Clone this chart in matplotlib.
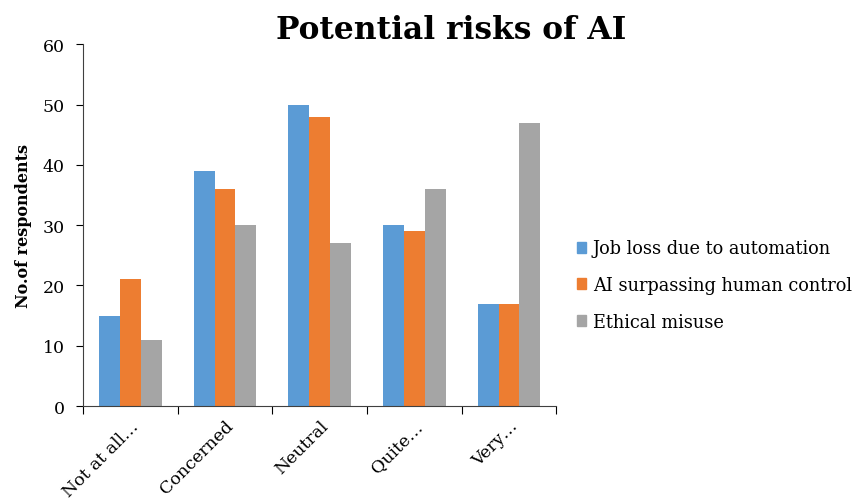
import numpy as np
import matplotlib
matplotlib.use("Agg")
import matplotlib.pyplot as plt
from matplotlib.patches import Patch

categories = ["Not at all…", "Concerned", "Neutral", "Quite…", "Very…"]
job_loss = [15, 39, 50, 30, 17]
ai_control = [21, 36, 48, 29, 17]
ethical = [11, 30, 27, 36, 47]
series_names = ["Job loss due to automation", "AI surpassing human control", "Ethical misuse"]
colors = ["#5b9bd5", "#ed7d31", "#a5a5a5"]

plt.rcParams["font.family"] = ["DejaVu Serif"]

fig = plt.figure(figsize=(8.56, 5.02), dpi=100)
ax = fig.add_axes([0.097, 0.189, 0.553, 0.721])

x = np.arange(len(categories))
w = 0.22
for i, (vals, c) in enumerate(zip([job_loss, ai_control, ethical], colors)):
    ax.bar(x + (i - 1) * w, vals, width=w, color=c, label=series_names[i])

ax.set_xlim(-0.5, len(categories) - 0.5)
ax.set_ylim(0, 60)
ax.set_yticks(range(0, 61, 10))
ax.set_xticks(np.arange(-0.5, len(categories), 1.0))
ax.set_xticklabels([])
ax.set_xticks(x, minor=True)
ax.set_xticklabels(categories, minor=True, rotation=45, ha="right",
                   rotation_mode="anchor", fontsize=12.5)
ax.tick_params(axis="x", which="minor", length=0, pad=8)
ax.tick_params(axis="x", which="major", length=6, direction="out")
ax.tick_params(axis="y", length=5, direction="out", labelsize=12.5, pad=8)
for s in ["top", "right"]:
    ax.spines[s].set_visible(False)
ax.spines["left"].set_color("#404040")
ax.spines["bottom"].set_color("#404040")

ax.set_ylabel("No.of respondents", fontsize=11.5, fontweight="bold", labelpad=8)
fig.text(0.527, 0.94, "Potential risks of AI", ha="center", va="center",
         fontsize=22.5, fontweight="bold")

handles = [Patch(color=c, label=n) for c, n in zip(colors, series_names)]
fig.legend(handles=handles, loc="center left", bbox_to_anchor=(0.655, 0.43),
           frameon=False, fontsize=12.8, handlelength=0.55, handleheight=0.55,
           handletextpad=0.35, labelspacing=1.05)

fig.savefig("out.png", dpi=100)
